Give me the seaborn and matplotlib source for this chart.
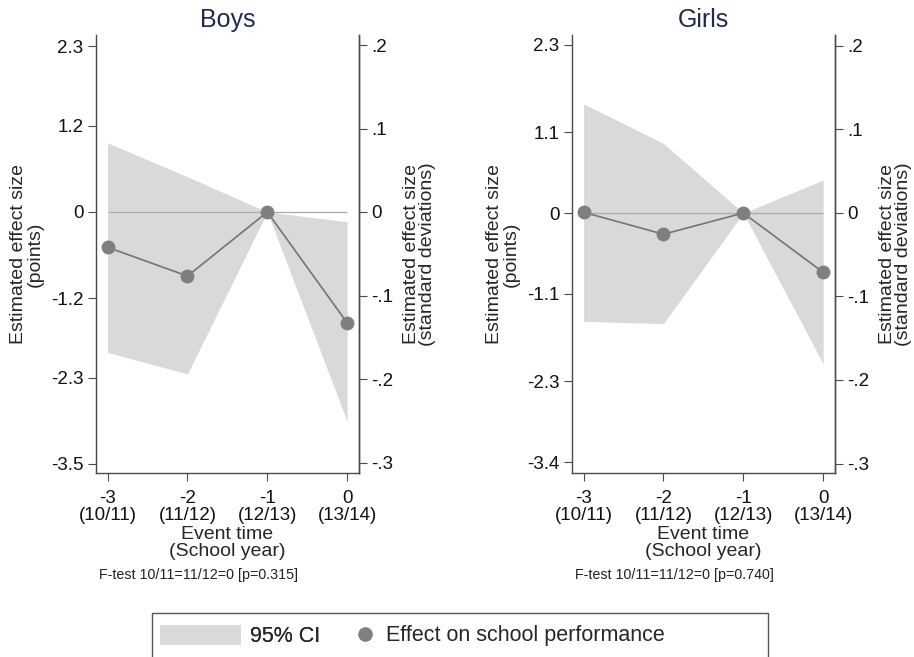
import numpy as np
import pandas as pd
import matplotlib
matplotlib.use("Agg")
import matplotlib.pyplot as plt
import seaborn as sns
from matplotlib.patches import Patch, Rectangle
from matplotlib.lines import Line2D

# ---------------- data ----------------
event_time = [-3, -2, -1, 0]
xtick_labels = ["-3\n(10/11)", "-2\n(11/12)", "-1\n(12/13)", "0\n(13/14)"]

boys_est = [-0.49, -0.89, 0.0, -1.54]
boys_lo = [-1.95, -2.25, 0.0, -2.91]
boys_hi = [0.96, 0.49, 0.0, -0.135]

girls_est = [0.01, -0.29, 0.0, -0.81]
girls_lo = [-1.48, -1.51, 0.0, -2.06]
girls_hi = [1.49, 0.95, 0.0, 0.45]

# points per standard deviation (right axis conversion)
boys_k = 11.6
girls_k = 11.4

boys_left_ticks = ["2.3", "1.2", "0", "-1.2", "-2.3", "-3.5"]
girls_left_ticks = ["2.3", "1.1", "0", "-1.1", "-2.3", "-3.4"]
right_ticks = [0.2, 0.1, 0.0, -0.1, -0.2, -0.3]
right_tick_labels = [".2", ".1", "0", "-.1", "-.2", "-.3"]

boys_ftest = "F-test 10/11=11/12=0 [p=0.315]"
girls_ftest = "F-test 10/11=11/12=0 [p=0.740]"

# ---------------- style ----------------
sns.set_theme(style="white")
plt.rcParams["font.family"] = ["Liberation Sans", "DejaVu Sans"]

FILL = "#d9d9d9"
MARK = "#7f7f7f"
LINE = "#747474"
ZERO = "#ababab"
SPINE = "#4a4a4a"
TITLE = "#1c2b50"

W, H = 914, 657
fig = plt.figure(figsize=(W / 100, H / 100), dpi=100)

def px_axes(l, r, t, b):
    return fig.add_axes([l / W, 1 - b / H, (r - l) / W, (b - t) / H])

panels = [
    dict(title="Boys", est=boys_est, lo=boys_lo, hi=boys_hi, k=boys_k,
         lt=boys_left_ticks, ft=boys_ftest, box=(96, 359, 35, 473), zero_px=212),
    dict(title="Girls", est=girls_est, lo=girls_lo, hi=girls_hi, k=girls_k,
         lt=girls_left_ticks, ft=girls_ftest, box=(572, 835, 35, 473), zero_px=213),
]

for p in panels:
    l, r, t, b = p["box"]
    ax = px_axes(l, r, t, b)
    df = pd.DataFrame({"t": event_time, "est": p["est"], "lo": p["lo"], "hi": p["hi"]})
    ppt = 83.5 / (0.1 * p["k"])  # pixels per point
    ytop = (p["zero_px"] - t) / ppt
    ybot = -(b - p["zero_px"]) / ppt

    ax.fill_between(df["t"], df["lo"], df["hi"], color=FILL, linewidth=0, zorder=1)
    ax.hlines(0, event_time[0], event_time[-1], color=ZERO, linewidth=0.9, zorder=2)
    sns.lineplot(data=df, x="t", y="est", ax=ax, color=LINE, linewidth=1.2,
                 zorder=3, legend=False)
    sns.scatterplot(data=df, x="t", y="est", ax=ax, color=MARK, s=100,
                    linewidth=0, zorder=4, legend=False)

    ax.set_xlim(-3.145, 0.148)
    ax.set_ylim(ybot, ytop)
    ax.set_xticks(event_time)
    ax.set_xticklabels(xtick_labels, fontsize=13.5, linespacing=1.0)
    ax.set_yticks([float(s) for s in p["lt"]])
    ax.set_yticklabels(p["lt"], fontsize=13.5)
    ax.tick_params(axis="both", direction="out", length=6, width=0.8, color=SPINE,
                   labelcolor="#111111", left=True, bottom=True)
    ax.tick_params(axis="y", pad=3)
    ax.tick_params(axis="x", pad=6)
    for s in ["left", "bottom", "right"]:
        ax.spines[s].set_visible(True)
        ax.spines[s].set_color(SPINE)
        ax.spines[s].set_linewidth(1.0)
    ax.spines["top"].set_visible(False)

    ax.set_xlabel("Event time\n(School year)", fontsize=14, linespacing=1.0, va="top")
    ax.xaxis.set_label_coords(0.5, -0.121)
    ax.set_ylabel("Estimated effect size\n(points)", fontsize=14, linespacing=0.95,
                  va="center")
    ax.yaxis.set_label_coords(-0.262, 0.5)
    ax.set_title(p["title"], fontsize=18, color=TITLE, pad=6)

    ax2 = ax.twinx()
    ax2.set_ylim(ybot / p["k"], ytop / p["k"])
    ax2.set_yticks(right_ticks)
    ax2.set_yticklabels(right_tick_labels, fontsize=13.5)
    ax2.tick_params(axis="y", direction="out", length=6, width=0.8, color=SPINE,
                    labelcolor="#111111", right=True, pad=3)
    ax2.grid(False)
    for s in ["left", "bottom", "top"]:
        ax2.spines[s].set_visible(False)
    ax2.spines["right"].set_color(SPINE)
    ax2.spines["right"].set_linewidth(1.0)
    ax2.set_ylabel("Estimated effect size\n(standard deviations)", fontsize=14,
                   linespacing=0.95, va="center", rotation=90)
    ax2.yaxis.set_label_coords(1.229, 0.5)

    ax.text(0.012, (b - 575.5) / (b - t), p["ft"],
            transform=ax.transAxes, ha="left", va="center", fontsize=10.3,
            color="#222222")

# ---------------- legend ----------------
fig.patches.append(Rectangle((152 / W, 1 - 660 / H), (768 - 152) / W, (660 - 613) / H,
                             transform=fig.transFigure, facecolor="white",
                             edgecolor="#555555", linewidth=1.0, zorder=0))
fs = 15.5
h1 = Patch(facecolor=FILL, edgecolor="none")
leg1 = fig.legend(handles=[h1], labels=["95% CI"], loc="center left",
                  bbox_to_anchor=(160 / W, 1 - 636 / H), frameon=False, fontsize=fs,
                  handlelength=3.75, handleheight=1.1, handletextpad=0.42,
                  borderpad=0, borderaxespad=0)
h2 = Line2D([], [], linestyle="none", marker="o", markersize=10.5, color=MARK,
            markeredgewidth=0)
leg2 = fig.legend(handles=[h2], labels=["Effect on school performance"], loc="center left",
                  bbox_to_anchor=(354 / W, 1 - 636 / H), frameon=False, fontsize=fs,
                  handlelength=1.0, handletextpad=0.5, borderpad=0, borderaxespad=0)
fig.add_artist(leg1)

fig.savefig("out.png", dpi=100)
